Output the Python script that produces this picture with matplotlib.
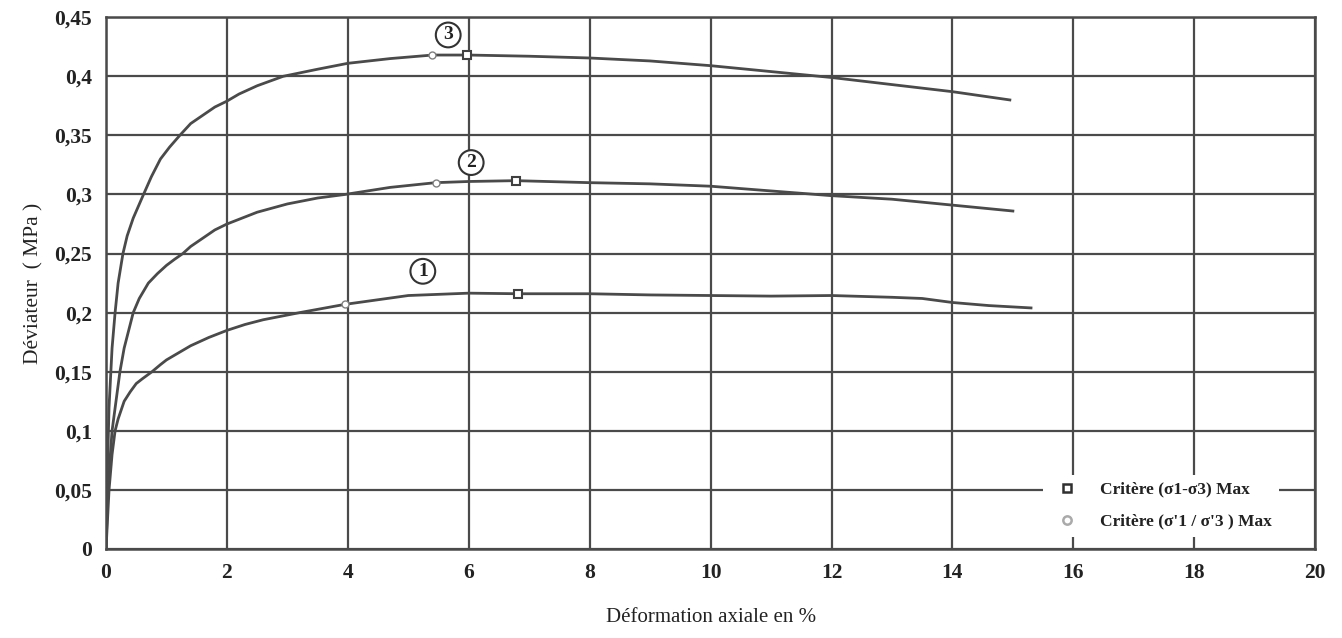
import matplotlib
matplotlib.use("Agg")
import matplotlib.pyplot as plt
from matplotlib.ticker import FixedLocator, FuncFormatter

# ---- data ----
x3 = [0, 0.02, 0.05, 0.1, 0.15, 0.2, 0.28, 0.35, 0.45, 0.62, 0.75, 0.9, 1.05, 1.22, 1.4, 1.6, 1.8, 2.0, 2.2, 2.5, 2.93, 3.5, 4.0, 4.7, 5.4, 6.0, 7.0, 8.0, 9.0, 10.0, 11.0, 12.0, 13.0, 14.0, 14.95]
y3 = [0, 0.06, 0.12, 0.17, 0.2, 0.225, 0.25, 0.265, 0.28, 0.30, 0.315, 0.33, 0.34, 0.35, 0.36, 0.367, 0.374, 0.379, 0.385, 0.392, 0.400, 0.406, 0.411, 0.415, 0.418, 0.418, 0.417, 0.4155, 0.413, 0.409, 0.404, 0.399, 0.393, 0.387, 0.380]

x2 = [0, 0.03, 0.1, 0.23, 0.3, 0.45, 0.55, 0.7, 0.85, 1.0, 1.13, 1.27, 1.4, 1.6, 1.8, 2.0, 2.25, 2.5, 3.0, 3.5, 3.95, 4.7, 5.45, 6.0, 6.78, 8, 9, 10, 11, 12, 13, 14, 15.0]
y2 = [0, 0.05, 0.1, 0.15, 0.17, 0.2, 0.212, 0.225, 0.233, 0.24, 0.245, 0.25, 0.256, 0.263, 0.27, 0.275, 0.28, 0.285, 0.292, 0.297, 0.300, 0.306, 0.310, 0.311, 0.3117, 0.310, 0.309, 0.307, 0.303, 0.299, 0.296, 0.291, 0.286]

x1 = [0, 0.05, 0.1, 0.15, 0.2, 0.3, 0.4, 0.5, 0.6, 0.76, 0.9, 1.0, 1.2, 1.4, 1.7, 2.0, 2.3, 2.6, 3.2, 3.95, 5.0, 6.0, 6.82, 8, 9, 10, 11, 12, 13, 13.5, 14, 14.6, 15.3]
y1 = [0, 0.05, 0.08, 0.1, 0.11, 0.125, 0.133, 0.14, 0.144, 0.15, 0.156, 0.16, 0.166, 0.172, 0.179, 0.185, 0.19, 0.194, 0.2, 0.207, 0.2145, 0.2165, 0.216, 0.216, 0.215, 0.2145, 0.214, 0.2145, 0.213, 0.212, 0.2086, 0.206, 0.204]

circle_x = [5.4, 5.45, 3.95]
circle_y = [0.418, 0.310, 0.207]
square_x = [5.97, 6.78, 6.82]
square_y = [0.418, 0.3117, 0.216]

label_names = ["3", "2", "1"]
label_x = [5.66, 6.04, 5.24]
label_y = [0.435, 0.327, 0.235]

x_ticks = [0, 2, 4, 6, 8, 10, 12, 14, 16, 18, 20]
y_ticks = [0, 0.05, 0.1, 0.15, 0.2, 0.25, 0.3, 0.35, 0.4, 0.45]

# ---- plot ----
plt.rcParams['font.family'] = ['Liberation Serif', 'DejaVu Serif']
fig = plt.figure(figsize=(13.42, 6.38), dpi=100)
ax = fig.add_axes([0.079, 0.1395, 0.901, 0.8335])

line_c = '#4a4a4a'
grid_c = '#4a4a4a'

for xs, ys in [(x3, y3), (x2, y2), (x1, y1)]:
    ax.plot(xs, ys, color=line_c, lw=2.0, zorder=3, solid_joinstyle='round')

ax.plot(circle_x, circle_y, ls='none', marker='o', ms=5, mfc='white', mec='#808080', mew=1.0, zorder=4)
ax.plot(square_x, square_y, ls='none', marker='s', ms=6, mfc='white', mec='#404040', mew=1.5, zorder=4)

for n, lx, ly in zip(label_names, label_x, label_y):
    ax.text(lx, ly, n, ha='center', va='center', fontsize=14, fontweight='bold', color='#222222',
            bbox=dict(boxstyle='circle,pad=0.2', fc='white', ec='#333333', lw=1.5), zorder=5)

ax.set_xlim(0, 20)
ax.set_ylim(0, 0.45)
ax.xaxis.set_major_locator(FixedLocator(x_ticks))
ax.yaxis.set_major_locator(FixedLocator(y_ticks))
ax.xaxis.set_major_formatter(FuncFormatter(lambda v, p: ('%g' % v).replace('.', ',')))
ax.yaxis.set_major_formatter(FuncFormatter(lambda v, p: ('%g' % v).replace('.', ',')))
ax.grid(True, color=grid_c, lw=1.6)
ax.set_axisbelow(True)
for s in ax.spines.values():
    s.set_color(grid_c)
    s.set_linewidth(1.8)
ax.tick_params(length=0, pad=10, labelsize=15.5, colors='#222222')
for lab in ax.get_xticklabels() + ax.get_yticklabels():
    lab.set_fontweight('bold')

ax.set_xlabel('Déformation axiale en %', fontsize=15, color='#222222', labelpad=18)
ax.set_ylabel('Déviateur  ( MPa )', fontsize=15.5, color='#222222', labelpad=8)

h1, = ax.plot([], [], ls='none', marker='s', ms=6, mfc='white', mec='#303030', mew=1.8)
h2, = ax.plot([], [], ls='none', marker='o', ms=6, mfc='white', mec='#aaaaaa', mew=1.8)
leg = ax.legend([h1, h2], ['Critère (σ1-σ3) Max', "Critère (σ'1 / σ'3 ) Max"],
                loc='lower right', bbox_to_anchor=(0.977, 0.007), frameon=True,
                facecolor='white', edgecolor='none', framealpha=1.0,
                prop={'size': 12.5, 'weight': 'bold'}, handletextpad=0.9, labelspacing=0.9)
for t in leg.get_texts():
    t.set_color('#222222')

fig.savefig('out.png', dpi=100, facecolor='white')
